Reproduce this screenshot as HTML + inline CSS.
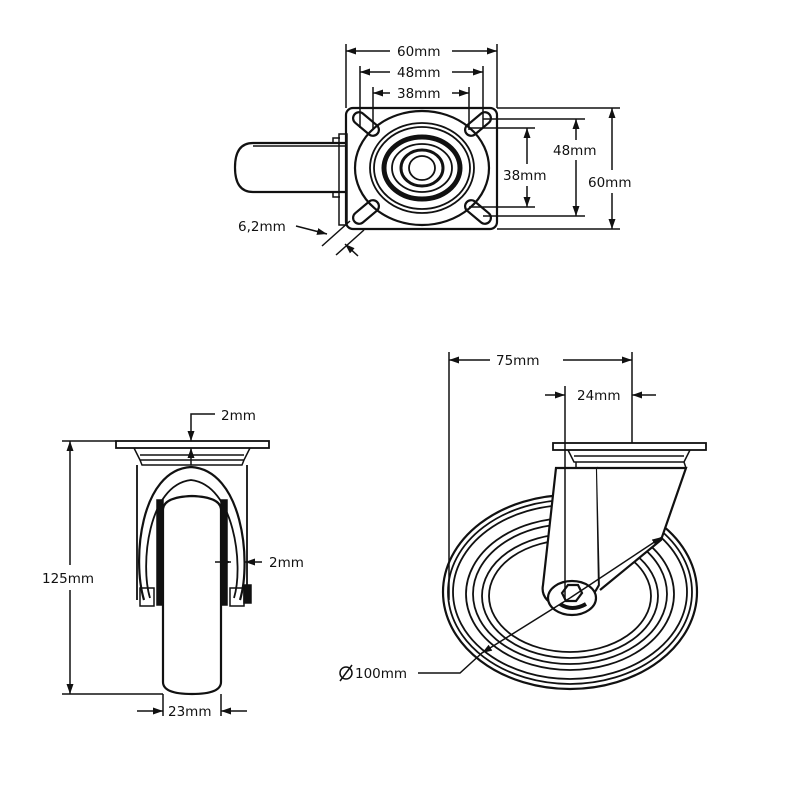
<!DOCTYPE html>
<html><head><style>
html,body{margin:0;padding:0;background:#fff;width:800px;height:800px;overflow:hidden}
svg{display:block}
text{font-family:"DejaVu Sans","Liberation Sans",sans-serif;font-size:13.5px;fill:#111}
</style></head><body>
<svg width="800" height="800" viewBox="0 0 800 800" xmlns="http://www.w3.org/2000/svg">
<defs>
<marker id="a" viewBox="0 0 10 10" refX="10" refY="5" markerWidth="10" markerHeight="10" orient="auto-start-reverse" markerUnits="userSpaceOnUse"><path d="M0,1.5 L10,5 L0,8.5z" fill="#111"/></marker>
</defs>
<g stroke="#111" fill="none" stroke-width="1.5">
<!-- ===== TOP VIEW ===== -->
<path d="M346,143 H253 Q235,143 235,167.5 Q235,192 253,192 H346" stroke-width="2.2"/>
<line x1="253" y1="146" x2="346" y2="146"/>
<path d="M340,138 h-7 v5 M340,197 h-7 v-5" />
<rect x="339" y="134" width="8" height="91"/>
<rect x="346" y="108" width="151" height="121" rx="7" stroke-width="2.2"/>
<ellipse cx="422" cy="168" rx="67" ry="57" stroke-width="2.2"/>
<ellipse cx="422" cy="168" rx="52" ry="45" stroke-width="1.8"/>
<ellipse cx="422" cy="168" rx="48" ry="41" stroke-width="1.8"/>
<ellipse cx="422" cy="168" rx="38" ry="31" stroke-width="5"/>
<ellipse cx="422" cy="168" rx="30" ry="24" stroke-width="1.8"/>
<ellipse cx="422" cy="168" rx="21" ry="18" stroke-width="3"/>
<ellipse cx="422" cy="168" rx="13" ry="12" stroke-width="1.8"/>
<g stroke-width="2.2">
<rect x="351" y="118" width="30" height="12" rx="6" transform="rotate(40 366 124)"/>
<rect x="463" y="118" width="30" height="12" rx="6" transform="rotate(-40 478 124)"/>
<rect x="351" y="206" width="30" height="12" rx="6" transform="rotate(-40 366 212)"/>
<rect x="463" y="206" width="30" height="12" rx="6" transform="rotate(40 478 212)"/>
</g>
<line x1="346" y1="44" x2="346" y2="108"/><line x1="497" y1="44" x2="497" y2="108"/>
<line x1="360" y1="66" x2="360" y2="128"/><line x1="483" y1="66" x2="483" y2="128"/>
<line x1="373" y1="87" x2="373" y2="130"/><line x1="469" y1="87" x2="469" y2="130"/>
<line x1="346" y1="51" x2="390" y2="51" marker-start="url(#a)"/><line x1="452" y1="51" x2="497" y2="51" marker-end="url(#a)"/>
<line x1="360" y1="72" x2="390" y2="72" marker-start="url(#a)"/><line x1="452" y1="72" x2="483" y2="72" marker-end="url(#a)"/>
<line x1="373" y1="93" x2="390" y2="93" marker-start="url(#a)"/><line x1="452" y1="93" x2="469" y2="93" marker-end="url(#a)"/>
<line x1="497" y1="108" x2="620" y2="108"/><line x1="497" y1="229" x2="620" y2="229"/>
<line x1="483" y1="119" x2="585" y2="119"/><line x1="483" y1="216" x2="585" y2="216"/>
<line x1="469" y1="128" x2="535" y2="128"/><line x1="469" y1="207" x2="535" y2="207"/>
<line x1="527" y1="128" x2="527" y2="164" marker-start="url(#a)"/><line x1="527" y1="186" x2="527" y2="207" marker-end="url(#a)"/>
<line x1="576" y1="119" x2="576" y2="140" marker-start="url(#a)"/><line x1="576" y1="160" x2="576" y2="216" marker-end="url(#a)"/>
<line x1="612" y1="108" x2="612" y2="170" marker-start="url(#a)"/><line x1="612" y1="193" x2="612" y2="229" marker-end="url(#a)"/>
<line x1="296" y1="226" x2="327" y2="234" marker-end="url(#a)"/>
<line x1="322" y1="246" x2="350" y2="221"/><line x1="336" y1="255" x2="364" y2="230"/>
<line x1="358" y1="256" x2="345" y2="244" marker-end="url(#a)"/>
<!-- ===== FRONT VIEW ===== -->
<rect x="116" y="441" width="153" height="7" stroke-width="1.8"/>
<path d="M134,448 L140,460 H244 L250,448 M140,455 H244 M140,460 L142,465 H242 L244,460"/>
<path d="M137,465 V600 M247,465 V600" stroke-width="1.8"/>
<path d="M144,600 C132,560 140,470 191,467 C242,470 252,560 240,600" stroke-width="2.2"/>
<path d="M150,598 C140,565 148,485 191,480 C234,485 244,565 234,598" stroke-width="1.8"/>
<path d="M163,510 Q163,497 192,496 Q221,497 221,510 V682 Q221,694 192,694 Q163,694 163,682 Z" stroke-width="2.2"/>
<rect x="157" y="500" width="6" height="105" fill="#111"/>
<rect x="221" y="500" width="6" height="105" fill="#111"/>
<rect x="140" y="588" width="14" height="18"/><rect x="230" y="588" width="14" height="18"/>
<rect x="244" y="585" width="7" height="18" fill="#111"/>
<line x1="62" y1="441" x2="116" y2="441"/><line x1="62" y1="694" x2="163" y2="694"/>
<line x1="70" y1="441" x2="70" y2="565" marker-start="url(#a)"/><line x1="70" y1="590" x2="70" y2="694" marker-end="url(#a)"/>
<path d="M215,414 H191 V441" marker-end="url(#a)"/>
<line x1="191" y1="465" x2="191" y2="448" marker-end="url(#a)"/>
<line x1="215" y1="562" x2="231" y2="562" marker-end="url(#a)"/><line x1="262" y1="562" x2="245" y2="562" marker-end="url(#a)"/>
<line x1="163" y1="694" x2="163" y2="716"/><line x1="221" y1="694" x2="221" y2="716"/>
<line x1="137" y1="711" x2="163" y2="711" marker-end="url(#a)"/><line x1="247" y1="711" x2="221" y2="711" marker-end="url(#a)"/>
<!-- ===== SIDE VIEW ===== -->
<ellipse cx="570" cy="592" rx="127" ry="97" stroke-width="2.2"/>
<ellipse cx="570" cy="592" rx="122" ry="92" stroke-width="1.8"/>
<ellipse cx="570" cy="592" rx="117" ry="87" stroke-width="1.8"/>
<ellipse cx="570" cy="594" rx="104" ry="76" stroke-width="1.8"/>
<ellipse cx="570" cy="594" rx="97" ry="70" stroke-width="1.8"/>
<ellipse cx="570" cy="596" rx="88" ry="62" stroke-width="1.8"/>
<ellipse cx="570" cy="596" rx="81" ry="56" stroke-width="1.8"/>
<path d="M556,468 H597 L599,585 Q585,612 560,608 Q540,600 543,585 Z" fill="#fff" stroke-width="2.2"/>
<path d="M597,468 H686 L661,540 L600,590" fill="#fff" stroke-width="2.2"/>
<rect x="553" y="443" width="153" height="7" fill="#fff" stroke-width="1.8"/>
<path d="M568,450 L574,462 H684 L690,450 M574,456 H684 M576,462 L576,468 H686 L684,462"/>
<ellipse cx="572" cy="598" rx="24" ry="17" fill="#fff" stroke-width="2.2"/>
<path d="M562,593 L568,585 H578 L582,593 L576,601 H566 Z" stroke-width="2.2"/>
<path d="M560,604 Q572,612 586,604" stroke-width="4"/>
<line x1="449" y1="352" x2="449" y2="600"/><line x1="632" y1="352" x2="632" y2="443"/>
<line x1="565" y1="386" x2="565" y2="600"/>
<line x1="449" y1="360" x2="490" y2="360" marker-start="url(#a)"/><line x1="563" y1="360" x2="632" y2="360" marker-end="url(#a)"/>
<line x1="545" y1="395" x2="565" y2="395" marker-end="url(#a)"/><line x1="656" y1="395" x2="632" y2="395" marker-end="url(#a)"/>
<path d="M418,673 H460 L483,652"/>
<line x1="570" y1="598" x2="482" y2="653" marker-end="url(#a)"/>
<line x1="570" y1="598" x2="662" y2="537" marker-end="url(#a)"/>
<circle cx="346" cy="673" r="6"/><line x1="340" y1="681" x2="352" y2="665"/>
</g>
<g>
<text x="397" y="56">60mm</text>
<text x="397" y="77">48mm</text>
<text x="397" y="98">38mm</text>
<text x="503" y="180">38mm</text>
<text x="553" y="155">48mm</text>
<text x="588" y="187">60mm</text>
<text x="238" y="231">6,2mm</text>
<text x="221" y="420">2mm</text>
<text x="269" y="567">2mm</text>
<text x="42" y="583">125mm</text>
<text x="168" y="716">23mm</text>
<text x="496" y="365">75mm</text>
<text x="577" y="400">24mm</text>
<text x="355" y="678">100mm</text>
</g>
</svg>
</body></html>
